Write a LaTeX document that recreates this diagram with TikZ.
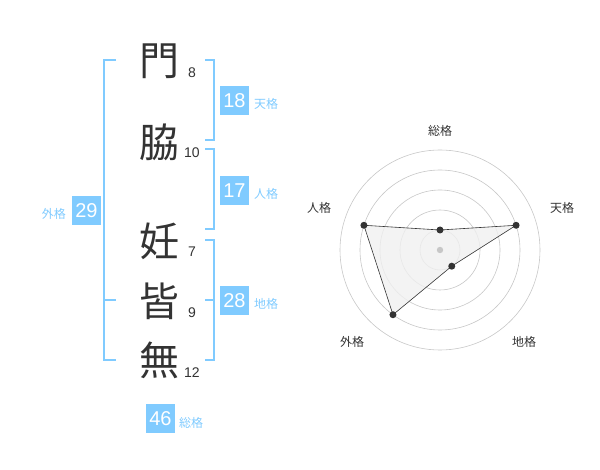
\documentclass[tikz,border=0pt]{standalone}
\usepackage{fontspec}
\setmainfont{Liberation Sans}
\newfontfamily\jp{Noto Sans CJK JP}
\definecolor{kaku}{HTML}{80CBFF}
\definecolor{ink}{HTML}{333333}

\begin{document}
\begin{tikzpicture}[x=1pt,y=-1pt,
    kanji/.style={font=\jp\fontsize{40}{40}\selectfont,text=ink,inner sep=0pt},
    kakusu/.style={font=\fontsize{14}{14}\selectfont,text=ink,inner sep=0pt},
    kbox/.style={fill=kaku,text=white,minimum size=29pt,inner sep=0pt,font=\fontsize{20}{20}\selectfont},
    klabel/.style={font=\jp\fontsize{12}{12}\selectfont,text=kaku,inner sep=0pt},
    bracket/.style={draw=kaku,line width=1.6pt},
    ring/.style={draw=black!22,line width=0.6pt},
    axislabel/.style={font=\jp\fontsize{12}{12}\selectfont,text=ink,inner sep=0pt},
    vertex/.style={circle,fill=ink,inner sep=0pt,minimum size=7pt}]
    \useasboundingbox (0,0) rectangle (600,470);

    % name
    \node[kanji] (mon)  at (159,61)  {門};
    \node[kanji] (waki) at (159,142) {脇};
    \node[kanji] (nin)  at (159,241) {妊};
    \node[kanji] (kai)  at (159,301) {皆};
    \node[kanji] (mu)   at (159,360) {無};
    \node[kakusu] (k1) at (192,73)  {8};
    \node[kakusu] (k2) at (192,153) {10};
    \node[kakusu] (k3) at (192,252) {7};
    \node[kakusu] (k4) at (192,313) {9};
    \node[kakusu] (k5) at (192,373) {12};

    % brackets
    \draw[bracket] (205,60) -- (214,60) -- (214,140) -- (205,140);
    \draw[bracket] (205,149) -- (214,149) -- (214,229) -- (205,229);
    \draw[bracket] (205,240) -- (214,240) -- (214,360) -- (205,360);
    \draw[bracket] (205,300) -- (214,300);
    \draw[bracket] (116,60) -- (104,60) -- (104,360) -- (116,360);
    \draw[bracket] (104,300) -- (116,300);

    % scores
    \node[kbox] (ten) at (234.5,100.5) {18};
    \node[kbox] (jin) at (234.5,190.5) {17};
    \node[kbox] (chi) at (234.5,300.5) {28};
    \node[kbox] (gai) at (86.5,210.5)  {29};
    \node[kbox] (sou) at (160.5,418.5) {46};
    \node[klabel,anchor=west] at (254,104) {天格};
    \node[klabel,anchor=west] at (254,194) {人格};
    \node[klabel,anchor=west] at (254,304) {地格};
    \node[klabel,anchor=east] at (66,214)  {外格};
    \node[klabel,anchor=west] at (179,423) {総格};

    % radar
    \begin{scope}[shift={(440,250)}]
        \foreach \r in {20,40,...,100}
            \draw[ring] (0,0) circle (\r);
        \coordinate (psou) at (-90:20);
        \coordinate (pten) at (-18:80);
        \coordinate (pchi) at (54:20);
        \coordinate (pgai) at (126:80);
        \coordinate (pjin) at (198:80);
        \fill[black!6,opacity=0.8] (psou) -- (pten) -- (pchi) -- (pgai) -- (pjin) -- cycle;
        \fill[black!22] (0,0) circle (3.2);
        \draw[ink,line width=0.6pt] (psou) -- (pten) -- (pchi) -- (pgai) -- (pjin) -- cycle;
        \foreach \p in {psou,pten,pchi,pgai,pjin}
            \node[vertex] at (\p) {};
    \end{scope}
    \node[axislabel] (asou) at (440,131) {総格};
    \node[axislabel] (aten) at (562,208) {天格};
    \node[axislabel] (ajin) at (319,208) {人格};
    \node[axislabel] (agai) at (352,342) {外格};
    \node[axislabel] (achi) at (524,342) {地格};
\end{tikzpicture}
\end{document}
